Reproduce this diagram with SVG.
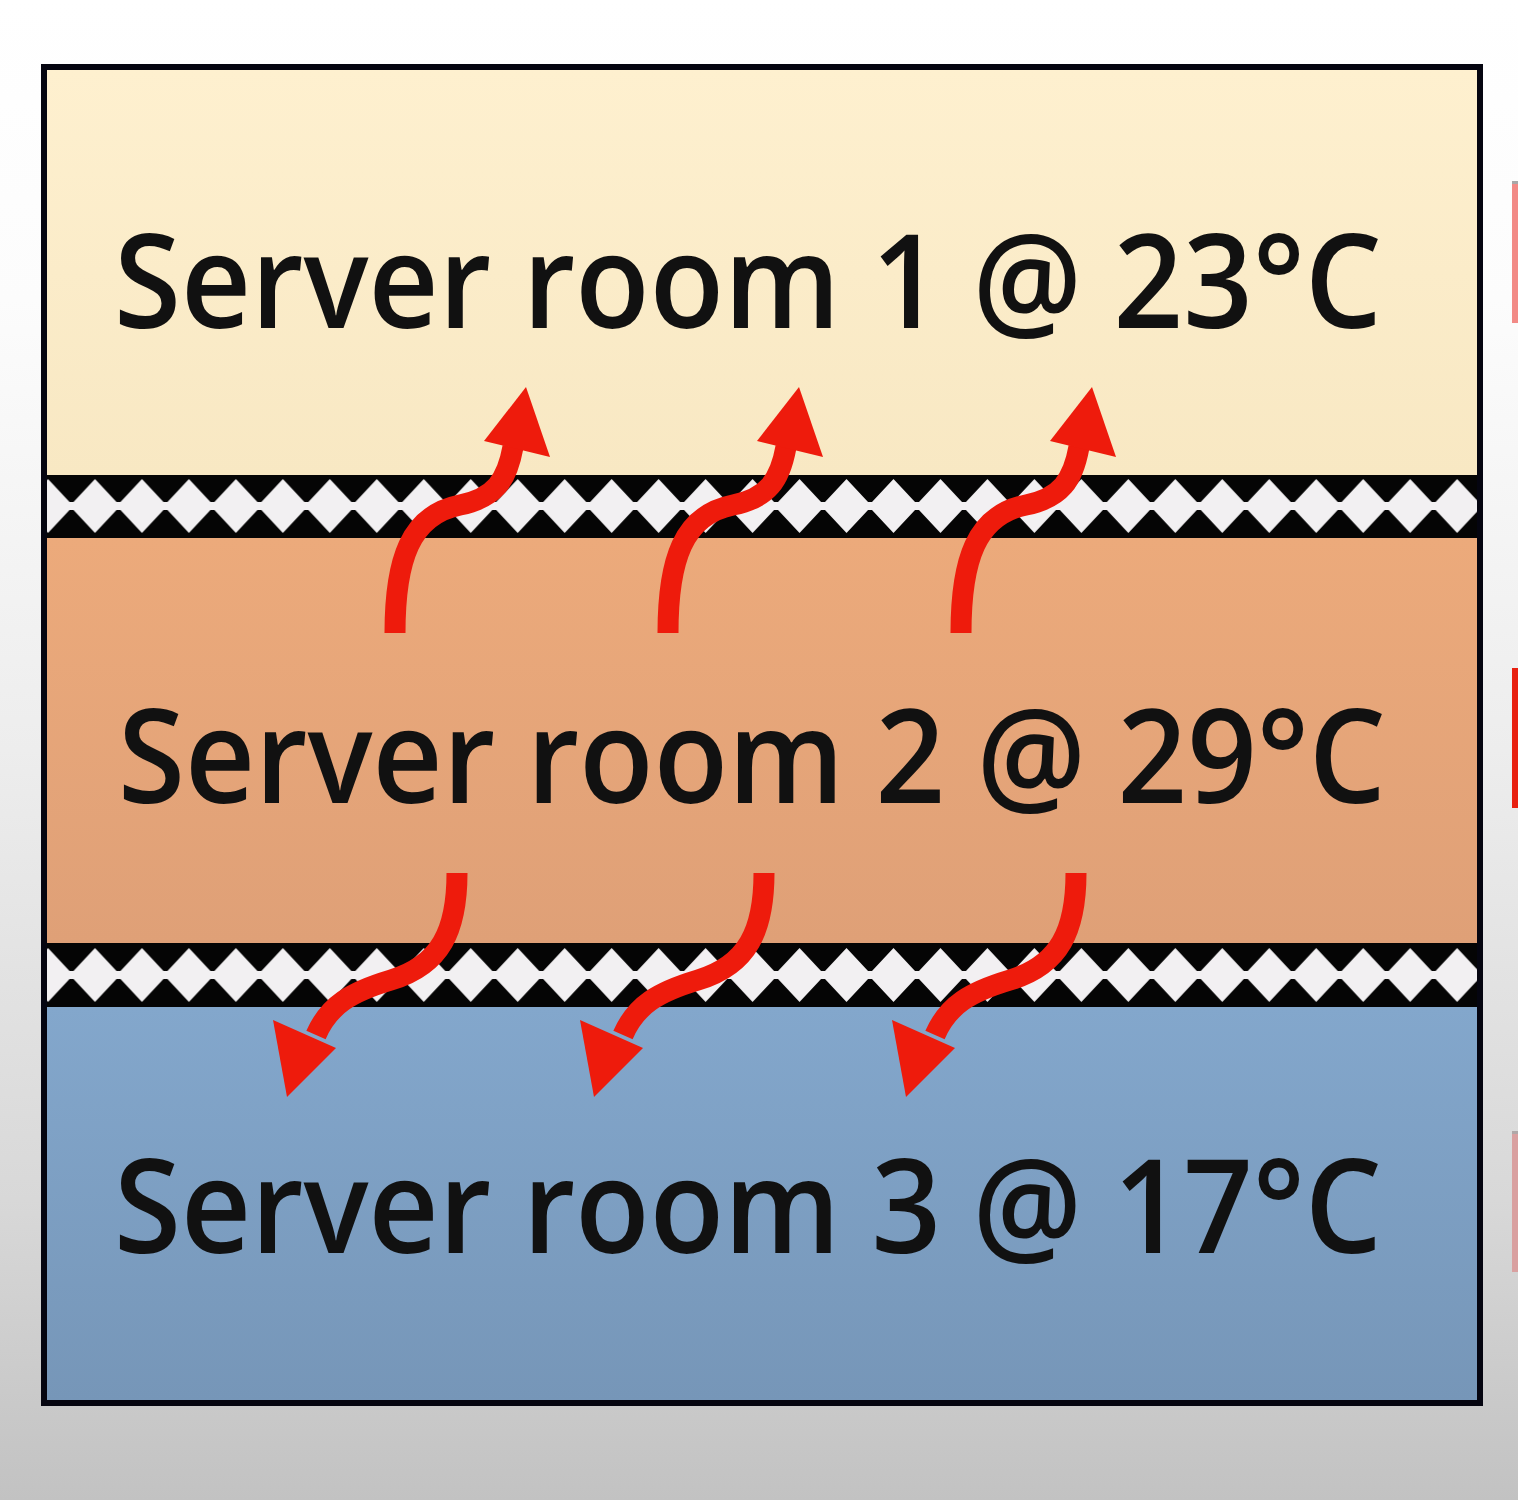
<svg xmlns="http://www.w3.org/2000/svg" width="1518" height="1500" viewBox="0 0 1518 1500">
  <defs>
    <linearGradient id="bg" x1="0" y1="0" x2="0" y2="1">
      <stop offset="0" stop-color="#FFFFFF"/>
      <stop offset="0.2" stop-color="#FCFCFC"/>
      <stop offset="0.5" stop-color="#EDEDED"/>
      <stop offset="0.8" stop-color="#D8D8D8"/>
      <stop offset="1" stop-color="#C2C2C2"/>
    </linearGradient>
    <linearGradient id="g1" x1="0" y1="0" x2="0" y2="1">
      <stop offset="0" stop-color="#FEF0CF"/>
      <stop offset="1" stop-color="#F8E8C3"/>
    </linearGradient>
    <linearGradient id="g2" x1="0" y1="0" x2="0" y2="1">
      <stop offset="0" stop-color="#ECAA7B"/>
      <stop offset="1" stop-color="#DFA077"/>
    </linearGradient>
    <linearGradient id="g3" x1="0" y1="0" x2="0" y2="1">
      <stop offset="0" stop-color="#83A7CC"/>
      <stop offset="1" stop-color="#7696B8"/>
    </linearGradient>
    <pattern id="diam" patternUnits="userSpaceOnUse" x="71.515" y="475" width="46.97" height="469">
      <polygon points="23.485,4 45,27 46.97,27 46.97,35 45,35 23.485,58 2,35 0,35 0,27 2,27" fill="#F2F0F2"/>
    </pattern>
    <style>
      .label { font-family: "Open Sans", "Liberation Sans", sans-serif; font-size: 130px; font-weight: 600; fill: #111111; }
      .wall { fill: #050505; }
      .shaft { fill: none; stroke: #EE1B0C; stroke-width: 21; stroke-linecap: butt; }
      .head { fill: #EE1B0C; }
    </style>
  </defs>

  <rect x="0" y="0" width="1518" height="1500" fill="url(#bg)"/>

  <g id="frame">
    <rect x="41" y="64" width="1442" height="1342" fill="#050510"/>
  </g>

  <g id="room1">
    <rect x="47" y="70" width="1430" height="405" fill="url(#g1)"/>
    <text class="label" x="114" y="328" textLength="1268" lengthAdjust="spacingAndGlyphs">Server room 1 @ 23°C</text>
  </g>

  <g id="wall1">
    <rect class="wall" x="47" y="475" width="1430" height="63"/>
    <rect x="47" y="475" width="1430" height="63" fill="url(#diam)"/>
  </g>

  <g id="room2">
    <rect x="47" y="538" width="1430" height="405" fill="url(#g2)"/>
    <text class="label" x="118" y="803" textLength="1268" lengthAdjust="spacingAndGlyphs">Server room 2 @ 29°C</text>
  </g>

  <g id="wall2">
    <rect class="wall" x="47" y="943" width="1430" height="64"/>
    <rect x="47" y="943" width="1430" height="64" fill="url(#diam)"/>
  </g>

  <g id="room3">
    <rect x="47" y="1007" width="1430" height="393" fill="url(#g3)"/>
    <text class="label" x="114" y="1253" textLength="1268" lengthAdjust="spacingAndGlyphs">Server room 3 @ 17°C</text>
  </g>

  <g id="connectors">
    <g transform="translate(395,633)">
      <path class="shaft" d="M0 0 C0 -73 15 -118 65 -128 C100 -135 112 -153 118 -186"/>
      <polygon class="head" points="131,-246 89,-192 155,-176"/>
    </g>
    <g transform="translate(668,633)">
      <path class="shaft" d="M0 0 C0 -73 15 -118 65 -128 C100 -135 112 -153 118 -186"/>
      <polygon class="head" points="131,-246 89,-192 155,-176"/>
    </g>
    <g transform="translate(961,633)">
      <path class="shaft" d="M0 0 C0 -73 15 -118 65 -128 C100 -135 112 -153 118 -186"/>
      <polygon class="head" points="131,-246 89,-192 155,-176"/>
    </g>
    <g transform="translate(457,873)">
      <path class="shaft" d="M0 0 C0 57 -16 92 -66 107 C-106 119 -128 132 -141 162"/>
      <polygon class="head" points="-170,224 -184,147 -121,175"/>
    </g>
    <g transform="translate(764,873)">
      <path class="shaft" d="M0 0 C0 57 -16 92 -66 107 C-106 119 -128 132 -141 162"/>
      <polygon class="head" points="-170,224 -184,147 -121,175"/>
    </g>
    <g transform="translate(1076,873)">
      <path class="shaft" d="M0 0 C0 57 -16 92 -66 107 C-106 119 -128 132 -141 162"/>
      <polygon class="head" points="-170,224 -184,147 -121,175"/>
    </g>
  </g>

  <g id="edge-marks">
    <rect x="1512" y="181" width="6" height="3" fill="#A8A8A8"/>
    <rect x="1512" y="184" width="6" height="139" fill="#F28A86"/>
    <rect x="1512" y="668" width="6" height="140" fill="#E82010"/>
    <rect x="1512" y="1131" width="6" height="3" fill="#B0A8A8"/>
    <rect x="1512" y="1134" width="6" height="138" fill="#D9A0A0"/>
  </g>
</svg>
